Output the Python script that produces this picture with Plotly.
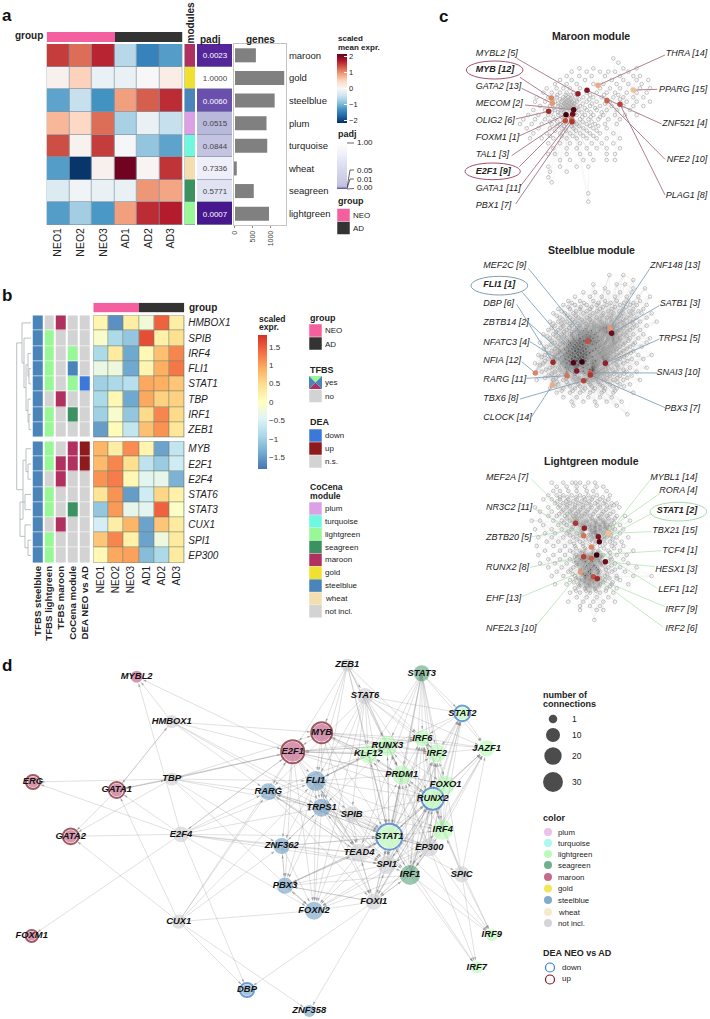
import numpy as np
import plotly.graph_objects as go

W, H = 710, 1019
FONT = "Liberation Sans"

# ---------- palette ----------
MOD = {"plum": "#dba0e6", "turquoise": "#70f7df", "lightgreen": "#98f898", "seagreen": "#3c9160",
       "maroon": "#b03060", "gold": "#f0e030", "steelblue": "#4a84b8", "wheat": "#f3deb0",
       "not incl.": "#d3d3d3"}
CAT = dict(MOD)
CAT.update({"NEO": "#f4609f", "AD": "#333333", "down": "#3b78d8", "up": "#8f1a1e", "white": "#ffffff"})
CAT_NAMES = list(CAT)
CAT_SCALE = []
for i, n in enumerate(CAT_NAMES):
    CAT_SCALE += [[i / len(CAT_NAMES), CAT[n]], [(i + 1) / len(CAT_NAMES), CAT[n]]]

# ---------- panel a ----------
samples = ["NEO1", "NEO2", "NEO3", "AD1", "AD2", "AD3"]
sample_group = ["NEO", "NEO", "NEO", "AD", "AD", "AD"]
modules = ["maroon", "gold", "steelblue", "plum", "turquoise", "wheat", "seagreen", "lightgreen"]
mod_expr = [
    [1.50, 1.20, 1.65, -0.60, -1.45, -1.20],
    [0.10, 0.50, -0.15, -0.15, 0.00, 0.15],
    [-1.15, -0.50, -1.30, 0.90, 1.30, 1.60],
    [0.72, 0.45, 1.20, -0.70, -0.15, -0.50],
    [1.40, 0.08, 1.50, -0.02, -0.85, -1.15],
    [-1.20, -2.10, 0.10, 2.10, 0.05, 1.55],
    [-0.30, -0.08, -0.15, -0.15, 0.95, 0.85],
    [-1.20, -0.75, -1.25, 0.90, 1.60, 1.70],
]
padj = [0.0023, 1.0, 0.0060, 0.0515, 0.0844, 0.7336, 0.5771, 0.0007]
genes = [590, 1390, 1120, 890, 910, 50, 530, 960]

# ---------- panel b ----------
tf_top = ["HMBOX1", "SPIB", "IRF4", "FLI1", "STAT1", "TBP", "IRF1", "ZEB1"]
tf_bot = ["MYB", "E2F1", "E2F4", "STAT6", "STAT3", "CUX1", "SPI1", "EP300"]
expr_top = [
    [0.15, -1.6, 0.25, -0.2, 1.45, 0.25],
    [-0.1, -0.9, -1.1, 1.6, 0.2, 0.45],
    [-0.9, 0.3, -1.4, 0.1, 0.75, 1.2],
    [-0.3, -0.25, -1.4, 0.15, 0.9, 1.3],
    [-1.0, -0.9, -0.8, 0.95, 0.9, 0.7],
    [-0.9, 0.1, -1.4, 0.95, 0.6, 0.6],
    [-1.0, -0.1, -1.1, 0.5, 1.2, 0.5],
    [-1.5, 0.05, -0.7, 0.75, 1.1, 0.35],
]
expr_bot = [
    [0.85, 0.25, 1.15, 0.15, -1.45, -0.7],
    [0.8, 1.2, 0.45, -0.75, -1.05, -0.6],
    [1.1, 1.25, 0.1, -0.4, -0.35, -1.3],
    [0.4, 1.1, -1.5, -0.6, 0.55, 0.2],
    [-1.1, 1.05, -0.35, -0.4, 1.45, -0.05],
    [-0.55, 0.25, 0.85, -1.45, 0.7, 0.3],
    [0.7, 1.2, 0.2, -1.45, -0.25, 0.3],
    [0.1, 0.95, 1.0, -1.2, -0.9, 0.3],
]
ann_cols = ["TFBS steelblue", "TFBS lightgreen", "TFBS maroon", "CoCena module", "DEA NEO vs AD"]
NI = "not incl."
ann_top = [
    ["steelblue", NI, "maroon", NI, NI],
    ["steelblue", "lightgreen", NI, NI, NI],
    ["steelblue", "lightgreen", NI, "lightgreen", NI],
    ["steelblue", "lightgreen", NI, "steelblue", NI],
    ["steelblue", "lightgreen", NI, "lightgreen", "down"],
    ["steelblue", NI, "maroon", NI, NI],
    ["steelblue", "lightgreen", NI, "seagreen", NI],
    ["steelblue", "lightgreen", NI, NI, NI],
]
ann_bot = [
    ["steelblue", "lightgreen", NI, "maroon", "up"],
    ["steelblue", "lightgreen", "maroon", "maroon", "up"],
    ["steelblue", NI, "maroon", NI, NI],
    ["steelblue", "lightgreen", NI, NI, NI],
    ["steelblue", "lightgreen", NI, "seagreen", NI],
    ["steelblue", NI, "maroon", NI, NI],
    ["steelblue", "lightgreen", NI, NI, NI],
    ["steelblue", "lightgreen", NI, NI, NI],
]
# dendrogram: (merge position, left, right); integer leaves are rows
dendro = (16.7,
          (22, 0, (24, 1, (26, (28, 2, (29, 3, 4)), (28, 5, (29, 6, 7))))),
          (23, (26, 8, (28, 9, 10)), (20, (25, 11, 12), (25, 13, (28, 14, 15)))))

# ---------- panel c: background nodes per y band (layout units) ----------
maroon_bands = [
    (175, [580]), (188, [595]), (205, [478, 520, 610, 650]), (215, [455, 500, 540, 565, 585, 625]),
    (228, [440, 478, 515, 555, 600, 640, 660]), (240, [420, 455, 495, 575, 610, 650, 685]),
    (252, [405, 440, 470, 520, 550, 590, 625, 665]), (265, [380, 410, 430, 450, 480, 540, 570, 600, 660, 690]),
    (278, [370, 395, 420, 440, 460, 500, 530, 560, 585, 620, 650, 680]),
    (292, [350, 385, 410, 430, 445, 465, 490, 520, 545, 580, 610, 640, 670]),
    (305, [345, 375, 405, 425, 440, 455, 470, 500, 530, 570, 620, 650, 690]),
    (318, [360, 390, 415, 430, 445, 460, 480, 510, 540, 575, 610, 640, 670]),
    (330, [340, 375, 405, 425, 450, 475, 500, 530, 560, 590, 630]),
    (345, [325, 355, 385, 415, 440, 470, 495, 520, 550, 585, 615, 650]),
    (358, [310, 345, 375, 405, 430, 480, 505, 535, 565, 600]),
    (372, [300, 335, 365, 395, 420, 470, 500, 525, 555, 590]),
    (385, [320, 355, 390, 425, 460, 490, 520, 560]), (400, [340, 380, 420, 450, 480, 510, 540, 580]),
    (415, [330, 365, 400, 440, 470, 500, 530, 560, 600]), (430, [385, 420, 450, 480, 515, 545, 580]),
    (445, [400, 440, 470, 500, 530, 560, 600]), (462, [385, 405, 440, 480, 510, 560, 585]),
    (480, [420, 450, 490, 520, 560, 585]), (500, [385, 420, 470, 505]), (515, [390, 440]),
    (532, [385]), (547, [395]), (580, [505]), (605, [505]),
    # denser centre of the cloud
    (285, [412, 437, 452, 472, 510, 552, 595]), (298, [397, 420, 437, 452, 478, 508, 560, 600]),
    (311, [415, 433, 448, 463, 488, 516, 555]), (324, [402, 422, 438, 452, 468, 494, 525]),
    (337, [395, 414, 432, 462, 485, 512, 545]), (351, [400, 425, 450, 487, 512, 540]),
    (365, [390, 412, 440, 462, 488, 515]), (378, [410, 432, 455, 478, 510, 535]),
    (392, [405, 438, 468, 500, 530]), (408, [390, 425, 458, 490, 520]),
]
steel_bands = [
    (180, [568, 610]), (195, [640]), (208, [520, 590, 615]), (220, [555, 640, 675]),
    (232, [490, 525, 565, 600, 635]), (245, [465, 510, 545, 585, 620, 655, 690]),
    (258, [445, 480, 520, 555, 590, 625, 660]), (270, [430, 465, 500, 530, 560, 600, 630, 650, 680]),
    (282, [415, 450, 480, 510, 540, 575, 610, 640, 670]),
    (295, [400, 435, 460, 490, 520, 550, 580, 610, 640, 665, 695]),
    (308, [420, 450, 475, 500, 530, 560, 590, 620, 650, 680]),
    (320, [390, 415, 440, 465, 490, 515, 545, 600, 630, 660, 710]),
    (332, [405, 430, 455, 480, 505, 530, 560, 590, 620, 650, 680]),
    (345, [385, 415, 440, 465, 490, 515, 540, 600, 630, 660]),
    (358, [370, 400, 425, 450, 475, 500, 525, 550, 610, 640, 670]),
    (370, [390, 415, 440, 460, 480, 520, 545, 570, 600, 630, 655, 690]),
    (383, [360, 405, 430, 450, 470, 530, 555, 585, 615, 645, 680]),
    (395, [380, 415, 440, 460, 480, 505, 540, 570, 600, 630, 665]),
    (408, [395, 420, 445, 465, 490, 520, 550, 580, 610, 640]),
    (420, [355, 375, 405, 430, 450, 475, 500, 530, 560, 590, 620, 655, 695]),
    (432, [385, 415, 435, 455, 505, 535, 570, 600, 635, 670]),
    (445, [345, 370, 420, 440, 520, 540, 580, 610, 650]),
    (458, [390, 415, 435, 490, 530, 565, 595, 630, 680]),
    (470, [365, 405, 425, 450, 490, 535, 560, 590, 620, 650]),
    (482, [385, 415, 465, 510, 540, 570, 600, 635]),
    (495, [350, 400, 430, 460, 520, 550, 580, 610, 660]),
    (508, [415, 445, 475, 510, 540, 570, 600, 630]), (520, [390, 430, 465, 495, 525, 555, 590]),
    (533, [410, 450, 480, 510, 545, 580, 640]), (547, [430, 470, 505, 540, 575]),
    (560, [455, 490, 525, 560, 605]), (572, [460, 530, 590]), (598, [622]),
    # denser centre of the cloud
    (264, [455, 492, 535, 572, 612, 640]), (276, [445, 482, 515, 548, 585, 618]),
    (289, [425, 468, 500, 532, 565, 598, 628, 655]), (302, [410, 442, 468, 510, 545, 572, 602, 632]),
    (314, [428, 458, 485, 510, 538, 575, 610, 640]), (326, [400, 425, 450, 475, 498, 522, 552, 582, 612, 640]),
    (339, [395, 422, 448, 472, 498, 522, 548, 578, 610, 638]), (351, [408, 432, 456, 480, 505, 530, 560, 590, 622]),
    (364, [382, 408, 432, 456, 488, 512, 535, 562, 592, 620]), (377, [395, 422, 445, 466, 492, 512, 538, 562, 598, 625]),
    (389, [392, 420, 445, 465, 488, 518, 548, 578, 610, 640]), (402, [372, 405, 432, 455, 475, 498, 528, 560, 590, 620]),
    (414, [385, 415, 440, 458, 482, 510, 540, 570, 602, 632]), (426, [365, 395, 420, 445, 465, 490, 518, 548, 580, 612]),
    (438, [375, 405, 428, 448, 470, 498, 528, 558, 590, 622]), (451, [360, 400, 425, 450, 475, 505, 532, 560, 592]),
    (464, [378, 420, 445, 472, 510, 548, 578, 610]), (476, [395, 435, 460, 495, 525, 552, 582, 612]),
    (489, [375, 408, 440, 478, 530, 560, 592, 622]), (501, [410, 440, 470, 505, 535, 562, 592]),
    (514, [405, 450, 480, 515, 548, 578, 612]), (527, [425, 458, 490, 520, 552, 585]),
]
green_bands = [
    (188, [395, 430, 457, 467, 480, 505, 525]), (200, [410, 440, 470, 495, 530, 550]),
    (213, [400, 420, 445, 470, 500, 520, 560]), (226, [385, 410, 430, 455, 480, 505, 530, 570]),
    (238, [370, 395, 420, 445, 470, 495, 515, 540, 565]), (250, [405, 430, 450, 475, 500, 525, 550, 575, 590]),
    (262, [345, 385, 415, 440, 465, 490, 515, 540, 570, 598]), (275, [360, 395, 425, 450, 475, 500, 525, 550, 580]),
    (288, [385, 410, 435, 460, 485, 510, 535, 560, 590, 615]), (302, [335, 360, 400, 425, 450, 500, 525, 550, 575, 630]),
    (315, [370, 415, 440, 480, 510, 540, 570, 600]), (328, [345, 395, 425, 455, 510, 540, 585, 610]),
    (340, [375, 405, 440, 470, 515, 550, 600]), (352, [355, 395, 430, 460, 515, 560, 590, 625]),
    (365, [380, 415, 450, 480, 510, 570, 605]), (378, [350, 400, 435, 465, 490, 540, 575, 610]),
    (392, [375, 420, 450, 480, 535, 565, 600, 640]), (405, [355, 400, 435, 470, 505, 550, 590, 620]),
    (418, [385, 420, 450, 480, 535, 575, 610]), (430, [360, 405, 440, 470, 505, 545, 585, 625]),
    (442, [385, 425, 460, 490, 530, 565, 600, 650]), (455, [410, 445, 505, 540, 575, 615]),
    (468, [395, 430, 465, 495, 555, 590, 640, 695]), (480, [450, 480, 510, 555, 600]),
    (493, [405, 440, 475, 505, 540, 575, 625]), (505, [465, 495, 525, 560, 590]),
    (518, [450, 480, 510, 540, 580]), (532, [470, 500, 530, 565]), (545, [445, 490, 520, 550, 585]),
    (558, [480, 510, 540]), (570, [480, 530, 550]), (600, [523]),
    # denser centre of the cloud
    (232, [420, 442, 468, 492, 518, 548]), (244, [412, 438, 460, 485, 508, 532, 555]),
    (256, [420, 442, 465, 488, 512, 535, 560, 582]), (269, [430, 455, 480, 505, 530, 558]),
    (282, [418, 442, 468, 495, 520, 545, 570]), (295, [440, 470, 515, 540, 565, 585]),
    (308, [432, 462, 490, 528, 555, 582]), (321, [458, 495, 525, 555, 578]),
    (334, [445, 485, 525, 560, 575]), (346, [450, 480, 505, 530, 572]),
    (358, [470, 498, 522, 552, 578]), (371, [462, 488, 525, 555, 585]),
    (385, [468, 495, 520, 552, 582]), (398, [460, 490, 518, 540, 570]),
    (411, [465, 497, 525, 545, 572]), (424, [462, 495, 518, 540, 565]),
    (436, [470, 498, 522, 548, 575]), (449, [452, 480, 512, 535, 558, 585]),
    (462, [458, 488, 512, 535, 562]), (475, [468, 495, 540, 568, 590]),
    (487, [462, 492, 522, 550, 578]), (499, [478, 510, 538, 570]), (512, [468, 498, 528, 558]),
]
# (label, rank, side, label y, line start x, line start y, hub x, hub y)
maroon_tfs = [
    ("MYBL2", 5, "L", 160, 290, 175, 474, 281), ("MYB", 12, "LB", 210, 300, 232, 394, 294),
    ("GATA2", 13, "L", 260, 305, 265, 397, 310), ("MECOM", 2, "L", 311, 315, 315, 461, 329),
    ("OLIG2", 6, "L", 362, 287, 357, 386, 334), ("FOXM1", 1, "L", 412, 297, 408, 438, 344),
    ("TAL1", 3, "L", 463, 275, 467, 458, 343), ("E2F1", 9, "LB", 514, 298, 500, 436, 362),
    ("GATA1", 11, "L", 565, 300, 560, 455, 358), ("PBX1", 7, "L", 616, 287, 612, 456, 365),
    ("THRA", 14, "R", 160, 735, 165, 534, 256), ("PPARG", 15, "R", 268, 712, 268, 640, 270),
    ("ZNF521", 4, "R", 372, 725, 372, 501, 271), ("NFE2", 10, "R", 480, 735, 478, 561, 302),
    ("PLAG1", 8, "R", 587, 735, 585, 600, 313),
]
steel_tfs = [
    ("MEF2C", 9, "L", 153, 325, 160, 503, 379), ("FLI1", 1, "LB", 210, 307, 232, 486, 441),
    ("DBP", 6, "L", 267, 290, 268, 399, 442), ("ZBTB14", 2, "L", 324, 325, 322, 460, 443),
    ("NFATC3", 4, "L", 382, 330, 380, 470, 468), ("NFIA", 12, "L", 438, 305, 440, 346, 474),
    ("RARG", 11, "L", 495, 320, 490, 441, 482), ("TBX6", 8, "L", 552, 300, 552, 491, 497),
    ("CLOCK", 14, "L", 608, 335, 605, 397, 510),
    ("ZNF148", 13, "R", 153, 690, 160, 570, 340), ("SATB1", 3, "R", 266, 718, 272, 575, 355),
    ("TRPS1", 5, "R", 370, 718, 372, 556, 445), ("SNAI3", 10, "R", 474, 712, 474, 511, 473),
    ("PBX3", 7, "R", 580, 735, 578, 511, 480),
]
green_tfs = [
    ("MEF2A", 7, "L", 172, 335, 178, 467, 310), ("NR3C2", 11, "L", 263, 345, 268, 491, 347),
    ("ZBTB20", 5, "L", 354, 335, 350, 493, 325), ("RUNX2", 8, "L", 444, 330, 442, 491, 410),
    ("EHF", 13, "L", 536, 305, 530, 482, 456), ("NFE2L3", 10, "L", 627, 350, 615, 514, 415),
    ("MYBL1", 14, "R", 172, 692, 178, 565, 340), ("RORA", 4, "R", 213, 720, 220, 535, 350),
    ("STAT1", 2, "RB", 273, 695, 280, 538, 365), ("TBX21", 15, "R", 331, 695, 335, 565, 340),
    ("TCF4", 1, "R", 391, 725, 392, 530, 405), ("HESX1", 3, "R", 450, 705, 440, 556, 425),
    ("LEF1", 12, "R", 509, 712, 505, 514, 381), ("IRF7", 9, "R", 568, 735, 560, 520, 470),
    ("IRF2", 6, "R", 627, 730, 622, 532, 476),
]

# ---------- panel d ----------
d_nodes = {  # name: (x, y, module, number of connections, DEA)
    "MYBL2": (136.7, 676.7, "maroon", 4, None), "HMBOX1": (171.7, 721.7, NI, 6, None),
    "ERG": (33, 782, "maroon", 8, "up"), "GATA1": (116.7, 790, "maroon", 12, "up"),
    "TBP": (171.7, 779, NI, 6, None), "GATA2": (70.7, 836.3, "maroon", 12, "up"),
    "E2F4": (181, 834.3, NI, 12, None), "CUX1": (178.7, 921.7, NI, 8, None),
    "FOXM1": (31.7, 936, "maroon", 4, "up"), "DBP": (247, 990, "steelblue", 8, "down"),
    "ZEB1": (347.3, 665, NI, 6, None), "STAT3": (421.7, 673.3, "seagreen", 13, None),
    "STAT6": (365, 696, NI, 13, None), "STAT2": (462.3, 713.3, "lightgreen", 12, "down"),
    "MYB": (321.7, 732.7, "maroon", 30, "up"), "IRF6": (422.3, 738.3, "lightgreen", 13, None),
    "RUNX3": (387.3, 746, "lightgreen", 26, None), "KLF12": (368.3, 754, "lightgreen", 19, None),
    "IRF2": (436.7, 753.3, "lightgreen", 19, None), "JAZF1": (486.7, 748.3, "lightgreen", 13, None),
    "E2F1": (292.7, 751.7, "maroon", 40, "up"), "PRDM1": (401.7, 775, "lightgreen", 22, None),
    "FLI1": (315.7, 781, "steelblue", 26, None), "FOXO1": (445.7, 785, "lightgreen", 19, None),
    "RARG": (268.3, 791.7, "steelblue", 15, None), "RUNX2": (432.7, 798.7, "lightgreen", 35, "down"),
    "TRPS1": (321.7, 807.7, "steelblue", 19, None), "SPIB": (351.7, 814.3, NI, 13, None),
    "STAT1": (389.3, 836.7, "lightgreen", 56, "down"), "IRF4": (442.7, 830, "lightgreen", 26, None),
    "ZNF362": (281.7, 846, "steelblue", 13, None), "TEAD4": (359, 852.7, NI, 19, None),
    "EP300": (429.3, 847.3, NI, 19, None), "SPI1": (386.7, 865, NI, 19, None),
    "IRF1": (410, 875, "seagreen", 26, None), "SPIC": (461.7, 874.3, NI, 13, None),
    "PBX3": (285, 885.7, "steelblue", 13, None), "FOXI1": (373.7, 901.7, NI, 13, None),
    "FOXN2": (314, 910.7, "steelblue", 19, None), "IRF9": (491.7, 935, "lightgreen", 4, None),
    "IRF7": (476.7, 967.3, "lightgreen", 4, None), "ZNF358": (309.3, 1011, "steelblue", 4, None),
}
d_edges = {
    "TBP": ["ERG", "GATA1", "GATA2", "RARG", "E2F1", "ZNF362", "FLI1", "TRPS1", "MYB", "FOXN2"],
    "E2F4": ["MYBL2", "ERG", "GATA1", "GATA2", "FOXM1", "DBP", "RARG", "FLI1", "E2F1", "TRPS1", "STAT1", "ZNF362", "FOXN2", "TEAD4", "SPI1"],
    "CUX1": ["GATA1", "GATA2", "DBP", "RARG", "ZNF358", "FOXN2", "E2F1", "ZNF362", "FLI1"],
    "HMBOX1": ["MYBL2", "GATA1", "RARG", "MYB", "E2F1", "TRPS1", "STAT1"],
    "GATA1": ["GATA2", "HMBOX1", "TBP"],
    "E2F1": ["MYBL2", "GATA1", "RARG", "TBP", "E2F4", "ZNF362", "PBX3", "FOXN2", "FLI1", "TRPS1", "TEAD4", "KLF12", "RUNX3", "PRDM1", "STAT1", "IRF2", "IRF6", "FOXO1", "RUNX2"],
    "MYB": ["FLI1", "E2F1", "TRPS1", "KLF12", "RUNX3", "IRF6", "PRDM1", "STAT1", "IRF2", "JAZF1", "RUNX2", "TEAD4"],
    "ZEB1": ["E2F1", "MYB", "FLI1", "TRPS1", "STAT6", "RUNX3", "KLF12", "IRF6", "PRDM1", "STAT1"],
    "STAT6": ["FLI1", "TRPS1", "KLF12", "RUNX3", "IRF6", "IRF2", "PRDM1", "STAT2", "JAZF1", "STAT1", "RUNX2", "SPIB", "FOXN2", "RARG"],
    "STAT3": ["KLF12", "RUNX3", "IRF6", "IRF2", "PRDM1", "FOXO1", "RUNX2", "STAT1", "SPI1", "JAZF1", "STAT2", "IRF1", "IRF4", "TEAD4"],
    "STAT2": ["IRF6", "JAZF1", "KLF12", "IRF2"],
    "FLI1": ["RARG", "TRPS1", "ZNF362", "PBX3", "FOXN2", "SPIB", "TEAD4", "STAT1", "PRDM1", "KLF12", "RUNX3", "IRF4", "RUNX2", "SPI1", "FOXI1", "IRF1"],
    "RARG": ["TRPS1", "TEAD4", "STAT1", "SPI1", "FOXI1"],
    "TRPS1": ["RARG", "ZNF362", "PBX3", "FOXN2", "SPIB", "TEAD4", "STAT1", "SPI1", "EP300", "IRF1", "FOXI1"],
    "ZNF362": ["PBX3", "FOXN2", "TRPS1", "STAT1", "SPI1"],
    "PBX3": ["ZNF362", "FOXN2", "FOXI1", "STAT1", "TEAD4"],
    "FOXN2": ["PBX3"],
    "SPIB": ["STAT1", "TEAD4", "SPI1", "FOXN2", "IRF4", "RUNX2", "EP300"],
    "TEAD4": ["FOXN2", "PBX3", "FOXI1", "SPI1", "STAT1", "RUNX2", "PRDM1", "RARG", "FLI1", "TRPS1", "ZNF362"],
    "SPI1": ["FOXN2", "PBX3", "FOXI1", "STAT1", "RUNX2", "IRF4", "PRDM1", "IRF2", "IRF6", "FOXO1", "JAZF1", "STAT2", "IRF1"],
    "FOXI1": ["FOXN2", "DBP", "ZNF358", "STAT1", "SPI1", "RUNX2", "EP300", "IRF1", "TEAD4", "PRDM1", "FOXO1", "PBX3"],
    "IRF1": ["IRF9", "IRF7", "STAT2", "IRF6", "IRF2", "RUNX2", "FOXO1", "JAZF1", "STAT1", "IRF4", "PRDM1", "FOXN2", "FOXI1", "PBX3"],
    "STAT1": ["IRF9", "IRF7", "IRF6", "IRF2", "IRF4", "RUNX2", "RUNX3", "KLF12", "PRDM1", "FOXO1", "JAZF1", "STAT2", "IRF1", "SPI1", "TEAD4", "FOXN2", "SPIC", "EP300", "PBX3", "ZNF362", "RARG"],
    "IRF4": ["JAZF1", "STAT2", "FOXO1", "RUNX2", "IRF2", "IRF6", "PRDM1", "IRF1", "IRF9"],
    "EP300": ["IRF7", "IRF9", "JAZF1", "STAT2", "FOXO1", "IRF2", "IRF6", "PRDM1", "RUNX3", "KLF12", "STAT1", "RUNX2", "FOXI1", "FOXN2", "SPI1", "IRF1"],
    "SPIC": ["IRF7", "IRF9", "JAZF1", "FOXO1", "RUNX2", "IRF4"],
    "RUNX2": ["JAZF1", "STAT2", "IRF6", "IRF2", "KLF12", "RUNX3", "STAT1", "IRF4", "IRF1", "PRDM1", "FOXI1", "SPI1"],
    "FOXO1": ["IRF6", "IRF2", "JAZF1", "STAT2"],
    "PRDM1": ["IRF6", "IRF2", "FOXO1", "RUNX3", "KLF12", "STAT1", "RUNX2"],
    "RUNX3": ["IRF6", "IRF2", "PRDM1", "KLF12", "STAT1", "FOXO1", "FLI1", "E2F1", "TRPS1"],
    "KLF12": ["RUNX3", "FLI1", "MYB", "E2F1", "RARG", "SPI1", "STAT1"],
    "IRF6": ["IRF2", "JAZF1", "KLF12"],
    "IRF2": ["IRF6", "JAZF1"],
}
conn_levels = [1, 10, 20, 30]
color_levels = ["plum", "turquoise", "lightgreen", "seagreen", "maroon", "gold", "steelblue", "wheat", "not incl."]

# ---------- helpers ----------
fig = go.Figure()
counter = [1]
annots, shapes = [], []


def new_axes(x0, x1, y0, y1, xa=None, ya=None):
    counter[0] += 1
    n = counter[0]
    base = dict(showgrid=False, zeroline=False, showline=False, ticks="", showticklabels=False, fixedrange=True)
    xd = dict(base, domain=[x0 / W, x1 / W], anchor=f"y{n}")
    yd = dict(base, domain=[1 - y1 / H, 1 - y0 / H], anchor=f"x{n}")
    xd.update(xa or {})
    yd.update(ya or {})
    fig.update_layout(**{f"xaxis{n}": xd, f"yaxis{n}": yd})
    return f"x{n}", f"y{n}"


def text(x, y, s, size=9, bold=False, italic=False, anchor="left", angle=0, color="#222222"):
    font = dict(family=FONT, size=size, color=color)
    if bold:
        font["weight"] = "bold"
    if italic:
        font["style"] = "italic"
    annots.append(dict(xref="paper", yref="paper", x=x / W, y=1 - y / H, text=s, showarrow=False, font=font,
                       xanchor=anchor, yanchor="middle", textangle=angle, borderpad=0))


def backing(x0, x1, y0, y1, color):
    shapes.append(dict(type="rect", xref="paper", yref="paper", x0=x0 / W, x1=x1 / W, y0=1 - y1 / H, y1=1 - y0 / H,
                       fillcolor=color, line_width=0, layer="below"))


def cat_z(rows):
    return [[CAT_NAMES.index(v) + 0.5 for v in r] for r in rows]


def cat_heat(rows, x, y, ax, xgap=0, ygap=0):
    fig.add_trace(go.Heatmap(z=cat_z(rows), x=x, y=y, colorscale=CAT_SCALE, zmin=0, zmax=len(CAT_NAMES),
                             showscale=False, xgap=xgap, ygap=ygap, hoverinfo="skip", xaxis=ax[0], yaxis=ax[1]))


catx = dict(type="category", dtick=1)
caty = dict(type="category", dtick=1, autorange="reversed")
RDBU = ["#053061", "#2166ac", "#4393c3", "#92c5de", "#d1e5f0", "#f7f7f7", "#fddbc7", "#f4a582", "#d6604d", "#b2182b", "#67001f"]
RDYLBU = ["#4575b4", "#74add1", "#abd9e9", "#e0f3f8", "#ffffbf", "#fee090", "#fdae61", "#f46d43", "#d73027"]
GRIDC = "#8295a6"

# ---------- panel a drawing ----------
ax = new_axes(46.7, 182.3, 32, 42, catx, caty)
cat_heat([sample_group], samples, ["group"], ax)
backing(46.7, 182.3, 44, 225, GRIDC)
ax = new_axes(46.7, 182.3, 44, 225,
              dict(catx, showticklabels=True, tickangle=-90, tickfont=dict(family=FONT, size=10.5, color="#222")), caty)
fig.add_trace(go.Heatmap(z=mod_expr, x=samples, y=modules, colorscale=RDBU, zmin=-2.15, zmax=2.15, xgap=0.7, ygap=0.7,
                         hoverinfo="skip", xaxis=ax[0], yaxis=ax[1],
                         colorbar=dict(x=337 / W, xanchor="left", y=1 - 54 / H, yanchor="top", len=69, lenmode="pixels",
                                       thickness=10, xpad=0, ypad=0, outlinewidth=0, tickvals=[-2, -1, 0, 1, 2],
                                       ticks="inside", ticklen=3, tickcolor="#ffffff", tickwidth=1,
                                       tickfont=dict(family=FONT, size=7.5, color="#222"))))
backing(184.5, 195, 44, 225, GRIDC)
ax = new_axes(184.5, 195, 44, 225, catx, caty)
cat_heat([[m] for m in modules], ["m"], modules, ax, ygap=0.7)
backing(197, 232, 44, 225, GRIDC)
ax = new_axes(197, 232, 44, 225, catx, caty)
PADJ_SCALE = [[0, "#40108a"], [0.001, "#4a1a90"], [0.0025, "#55289a"], [0.006, "#6a50ac"], [0.05, "#b8b8dc"],
              [0.085, "#c4c4e2"], [0.58, "#e1e3f3"], [0.73, "#eeeff9"], [1, "#ffffff"]]
fig.add_trace(go.Heatmap(z=[[p] for p in padj], x=["padj"], y=modules, colorscale=PADJ_SCALE, zmin=0, zmax=1,
                         text=[[f"{p:.4f}"] for p in padj], texttemplate="%{text}",
                         textfont=dict(family=FONT, size=8), xgap=0, ygap=0.7, hoverinfo="skip",
                         xaxis=ax[0], yaxis=ax[1],
                         colorbar=dict(x=337 / W, xanchor="left", y=1 - 143 / H, yanchor="top", len=46, lenmode="pixels",
                                       thickness=10, xpad=0, ypad=0, outlinewidth=0, showticklabels=False, ticks="")))
ax = new_axes(234, 286, 44, 225,
              dict(range=[-28, 1440], tickmode="array", tickvals=[0, 500, 1000], showticklabels=True, tickangle=-90,
                   ticks="outside", ticklen=2, tickcolor="#888", tickfont=dict(family=FONT, size=7, color="#444"),
                   showline=True, linecolor="#c4c4c4", mirror=True, linewidth=1),
              dict(caty, side="right", showticklabels=True, tickfont=dict(family=FONT, size=9.5, color="#222"),
                   showline=True, linecolor="#c4c4c4", mirror=True, linewidth=1))
fig.add_trace(go.Bar(x=genes, y=modules, orientation="h", marker=dict(color="#808080", line_width=0), width=0.62,
                     hoverinfo="skip", xaxis=ax[0], yaxis=ax[1]))

text(44, 36, "group", 10, bold=True, anchor="right")
text(189.5, 22, "modules", 10, bold=True, anchor="center", angle=-90)
text(199, 39, "padj", 10, bold=True)
text(260, 39, "genes", 10, bold=True, anchor="center")
text(337, 38.5, "scaled", 8, bold=True)
text(337, 47.5, "mean expr.", 8, bold=True)
text(337, 134, "padj", 9, bold=True)
text(337, 201, "group", 9, bold=True)
text(352, 215, "NEO", 8)
text(352, 228, "AD", 8)
for v, y in zip(["1.00", "0.05", "0.01", "0.00"], [143, 170, 179, 188]):
    text(356, y, v, 8)

# ---------- panel b drawing ----------
ax = new_axes(93.3, 184.3, 302.7, 312.3, catx, caty)
cat_heat([sample_group], samples, ["group"], ax)
text(188, 308, "group", 10, bold=True)
for names, zz, anns, y0, y1, bottom in [(tf_top, expr_top, ann_top, 315.3, 437.3, False),
                                        (tf_bot, expr_bot, ann_bot, 441.3, 563, True)]:
    backing(93.3, 184.3, y0, y1, "#6f7f70")
    xa = dict(catx)
    if bottom:
        xa.update(showticklabels=True, tickangle=-90, tickfont=dict(family=FONT, size=10, color="#222"))
    ax = new_axes(93.3, 184.3, y0, y1, xa,
                  dict(caty, side="right", showticklabels=True, ticklabelstandoff=3,
                       tickfont=dict(family=FONT, size=10, style="italic", color="#222")))
    hm = dict(z=zz, x=samples, y=names, colorscale=RDYLBU, zmin=-1.82, zmax=1.82, xgap=0.6, ygap=0.6, hoverinfo="skip",
              xaxis=ax[0], yaxis=ax[1], showscale=not bottom)
    if not bottom:
        hm["colorbar"] = dict(x=258 / W, xanchor="left", y=1 - 335 / H, yanchor="top", len=134, lenmode="pixels",
                              thickness=9, xpad=0, ypad=0, outlinewidth=0, ticks="",
                              tickvals=[-1.5, -1, -0.5, 0, 0.5, 1, 1.5], ticklabelposition="outside",
                              tickfont=dict(family=FONT, size=8, color="#333"))
    fig.add_trace(go.Heatmap(**hm))
    xa = dict(catx)
    if bottom:
        xa.update(showticklabels=True, tickangle=-90, tickfont=dict(family=FONT, size=9.7, weight="bold", color="#222"))
    ax = new_axes(31.7, 90.3, y0, y1, xa, caty)
    cat_heat(anns, ann_cols, names, ax, xgap=2, ygap=0.6)

dx, dy = [], []


def walk(node):
    if isinstance(node, int):
        return 31, node + (0.26 if node >= 8 else 0)
    h, a, b = node
    xa, ya = walk(a)
    xb, yb = walk(b)
    dx.extend([xa, h, h, xb, None])
    dy.extend([ya, ya, yb, yb, None])
    return h, (ya + yb) / 2


walk(dendro)
ax = new_axes(15, 31, 315.3, 563, dict(range=[15, 31]), dict(range=[15.76, -0.5]))
fig.add_trace(go.Scatter(x=dx, y=dy, mode="lines", line=dict(color="#a9b0b4", width=0.8), hoverinfo="skip",
                         xaxis=ax[0], yaxis=ax[1]))

text(258, 319, "scaled", 8.5, bold=True)
text(258, 327, "expr.", 8.5, bold=True)
text(309, 318, "group", 9, bold=True)
text(324, 331, "NEO", 8)
text(324, 344, "AD", 8)
text(309, 370, "TFBS", 9, bold=True)
text(324, 383, "yes", 8)
text(324, 396, "no", 8)
text(309, 422, "DEA", 9, bold=True)
text(324, 435.5, "down", 8)
text(324, 448.5, "up", 8)
text(324, 461.5, "n.s.", 8)
text(309, 487, "CoCena", 8.6, bold=True)
text(309, 496, "module", 8.6, bold=True)

# ---------- shared overlay for legends ----------
ov = new_axes(0, W, 0, H, dict(range=[0, W]), dict(range=[H, 0]))


def squares(x, ys, names, size=12.5):
    fig.add_trace(go.Scatter(x=[x] * len(ys), y=ys, mode="markers", hoverinfo="skip", xaxis=ov[0], yaxis=ov[1],
                             marker=dict(symbol="square", size=size, color=[CAT[n] for n in names], line_width=0)))


squares(343.5, [215, 228], ["NEO", "AD"])
squares(315.5, [330.5, 343.5], ["NEO", "AD"])
squares(315.5, [396], ["not incl."])
squares(315.5, [435.5, 448.5, 461.5], ["down", "up", "not incl."])
coc_y = [508.5, 521.4, 534.2, 547, 559.9, 572.8, 585.6, 598.5, 611.3]
squares(315.5, coc_y, color_levels)
for n, y in zip(color_levels, coc_y):
    text(324, y, n, 8)
# TFBS swatch
for pts, c in [("M309,376 L322,376 L315.5,382.5 Z", "lightgreen"), ("M309,389 L322,389 L315.5,382.5 Z", "maroon"),
               ("M309,376 L309,389 L315.5,382.5 Z", "steelblue"), ("M322,376 L322,389 L315.5,382.5 Z", "steelblue")]:
    shapes.append(dict(type="path", path=pts, xref=ov[0], yref=ov[1], fillcolor=CAT[c], line_width=0))
# padj legend connectors
fig.add_trace(go.Scatter(x=[347, 354, None, 347, 350, 354, None, 347, 350, 354, None, 347, 354],
                         y=[143, 143, None, 188, 170, 170, None, 188.5, 179, 179, None, 189, 188.5],
                         mode="lines", line=dict(color="#222", width=0.7), hoverinfo="skip", xaxis=ov[0], yaxis=ov[1]))

# ---------- panel c drawing ----------
HUB_SCALE = [[0, "#3d0010"], [0.25, "#8c1a28"], [0.55, "#bd4a3a"], [0.8, "#dc8a68"], [1, "#efc09a"]]


def network(origin_y, height, bands, tfs, line_col, hub_alpha, k, nb_alpha, nb, cores, core_alpha,
            ellipse_col, ellipses, title_y, title):
    ax = new_axes(420, 710, origin_y, origin_y + height, dict(range=[0, 870]), dict(range=[height * 3, 0]))
    px = np.array([x for y, xs in bands for x in xs], float)
    py = np.array([y for y, xs in bands for x in xs], float)
    hx = np.array([t[6] for t in tfs], float)
    hy = np.array([t[7] for t in tfs], float)
    hair_x, hair_y, near_x, near_y, core_x, core_y = [], [], [], [], [], []
    for i, (x0, y0) in enumerate(zip(px, py)):
        for j in np.argsort((hx - x0) ** 2 + (hy - y0) ** 2)[:k]:
            hair_x += [x0, hx[j], None]
            hair_y += [y0, hy[j], None]
        for j in np.argsort((px - x0) ** 2 + (py - y0) ** 2)[1:nb + 1]:
            near_x += [x0, px[j], None]
            near_y += [y0, py[j], None]
    for cx, cy, R in cores:
        idx = np.where((px - cx) ** 2 + (py - cy) ** 2 < R * R)[0]
        for a in idx:
            for b in idx:
                if a < b:
                    core_x += [px[a], px[b], None]
                    core_y += [py[a], py[b], None]
    for xs, ys, al in [(hair_x, hair_y, hub_alpha), (near_x, near_y, nb_alpha), (core_x, core_y, core_alpha)]:
        fig.add_trace(go.Scatter(x=xs, y=ys, mode="lines", line=dict(color=f"rgba(70,70,70,{al})", width=0.4),
                                 hoverinfo="skip", xaxis=ax[0], yaxis=ax[1]))
    lx, ly = [], []
    for t in tfs:
        lx += [t[4], t[6], None]
        ly += [t[5], t[7], None]
    fig.add_trace(go.Scatter(x=lx, y=ly, mode="lines", line=dict(color=line_col, width=0.8), hoverinfo="skip",
                             xaxis=ax[0], yaxis=ax[1]))
    fig.add_trace(go.Scatter(x=px, y=py, mode="markers", hoverinfo="skip", xaxis=ax[0], yaxis=ax[1],
                             marker=dict(symbol="circle-open", size=3.6, color="#a0a0a0", line=dict(width=0.6, color="#a0a0a0"))))
    fig.add_trace(go.Scatter(x=hx, y=hy, mode="markers", hoverinfo="skip", xaxis=ax[0], yaxis=ax[1],
                             marker=dict(size=5.5, color=[t[1] for t in tfs], colorscale=HUB_SCALE, cmin=1, cmax=15,
                                         line_width=0, showscale=False)))
    for side, xpos in [("L", 167 if title.startswith("Maroon") else (190 if title.startswith("Steel") else 198)),
                       ("R", 862 if title.startswith("Maroon") else (840 if title.startswith("Steel") else 832))]:
        sel = [t for t in tfs if t[2][0] == side]
        labs = [(f"<b><i>{t[0]} [{t[1]}]</i></b>" if t[2].endswith("B") else f"<i>{t[0]} [{t[1]}]</i>") for t in sel]
        fig.add_trace(go.Scatter(x=[xpos] * len(sel), y=[t[3] for t in sel], text=labs, mode="text",
                                 textposition="middle right" if side == "L" else "middle left",
                                 textfont=dict(family=FONT, size=9, color="#222"), hoverinfo="skip", cliponaxis=False,
                                 xaxis=ax[0], yaxis=ax[1]))
    for (cx, cy, rx, ry) in ellipses:
        shapes.append(dict(type="circle", xref=ax[0], yref=ax[1], x0=cx - rx, x1=cx + rx, y0=cy - ry, y1=cy + ry,
                           line=dict(color=ellipse_col, width=1)))
    text(591, title_y, title, 10.5, bold=True, anchor="center")


network(0, 220, maroon_bands, maroon_tfs, "#9d5f72", 0.05, 2, 0.07, 2, [(445, 320, 40)], 0.04,
        "#a05070", [(224, 210, 85, 27), (218, 514, 83, 25)], 36, "Maroon module")
network(215, 210, steel_bands, steel_tfs, "#6f98b4", 0.05, 8, 0.10, 3, [(470, 425, 60), (490, 380, 50)], 0.035,
        "#7f9cb0", [(238, 212, 85, 28)], 250, "Steelblue module")
network(420, 212, green_bands, green_tfs, "#b4e4b4", 0.05, 4, 0.10, 3, [(530, 330, 45), (510, 430, 50), (510, 475, 45)], 0.05,
        "#a8dca8", [(775, 275, 85, 28)], 461, "Lightgreen module")

# ---------- panel d drawing ----------
NODEC = {"plum": "rgba(221,160,221,0.65)", "turquoise": "rgba(112,247,223,0.6)", "lightgreen": "rgba(152,248,152,0.65)",
         "seagreen": "rgba(46,139,87,0.68)", "maroon": "rgba(176,48,96,0.72)", "gold": "rgba(240,224,48,0.8)",
         "steelblue": "rgba(70,130,180,0.68)", "wheat": "rgba(243,222,176,0.65)", "not incl.": "rgba(205,205,210,0.85)"}


def radius(c):
    return 3.5 + 1.27 * np.sqrt(c)


dax = new_axes(0, 520, 650, H, dict(range=[0, 520]), dict(range=[H, 650]))
ex, ey, tx, ty, ta = [], [], [], [], []
for s, targets in d_edges.items():
    x0, y0 = d_nodes[s][:2]
    for t in targets:
        x1, y1 = d_nodes[t][:2]
        vx, vy = x1 - x0, y1 - y0
        L = np.hypot(vx, vy)
        r = radius(d_nodes[t][3]) + 1
        px, py = x1 - vx / L * r, y1 - vy / L * r
        ex += [x0, px, None]
        ey += [y0, py, None]
        tx.append(px)
        ty.append(py)
        ta.append(float(np.degrees(np.arctan2(vx, -vy))))
fig.add_trace(go.Scatter(x=ex, y=ey, mode="lines", line=dict(color="rgba(130,130,130,0.45)", width=0.55), hoverinfo="skip",
                         xaxis=dax[0], yaxis=dax[1]))
fig.add_trace(go.Scatter(x=tx, y=ty, mode="markers", hoverinfo="skip", xaxis=dax[0], yaxis=dax[1],
                         marker=dict(symbol="arrow", size=3.5, angle=ta, color="rgba(140,140,140,0.75)", line_width=0)))
dnames = list(d_nodes)
dxs = [d_nodes[n][0] for n in dnames]
dys = [d_nodes[n][1] for n in dnames]
# DEA rings
for state, col in [("up", "#7d1420"), ("down", "#2f74c8")]:
    sel = [n for n in dnames if d_nodes[n][4] == state]
    fig.add_trace(go.Scatter(x=[d_nodes[n][0] for n in sel], y=[d_nodes[n][1] for n in sel], mode="markers",
                             hoverinfo="skip", xaxis=dax[0], yaxis=dax[1],
                             marker=dict(size=[2 * radius(d_nodes[n][3]) for n in sel], color="#ffffff",
                                         line=dict(color=col, width=2))))
fig.add_trace(go.Scatter(x=dxs, y=dys, mode="markers", hoverinfo="skip", xaxis=dax[0], yaxis=dax[1],
                         marker=dict(size=[2 * radius(d_nodes[n][3]) - (3 if d_nodes[n][4] else 0) for n in dnames],
                                     color=[NODEC[d_nodes[n][2]] for n in dnames], line_width=0)))
fig.add_trace(go.Scatter(x=dxs, y=dys, text=dnames, mode="text", textposition="middle center", hoverinfo="skip",
                         textfont=dict(family=FONT, size=9.4, style="italic", weight="bold", color="#111"),
                         cliponaxis=False, xaxis=dax[0], yaxis=dax[1]))

# panel d legends
text(542, 695, "number of", 9, bold=True)
text(542, 704, "connections", 9, bold=True)
fig.add_trace(go.Scatter(x=[553] * 4, y=[719, 735, 756, 782], mode="markers", hoverinfo="skip", xaxis=ov[0], yaxis=ov[1],
                         marker=dict(size=[2 * radius(c) - 1 for c in conn_levels], color="#000", line_width=0)))
for c, y in zip(conn_levels, [719, 735, 756, 782]):
    text(571, y, str(c), 8.5)
text(542, 818, "color", 9, bold=True)
col_y = [832, 843, 854, 865, 877, 888.5, 900, 912, 923]
fig.add_trace(go.Scatter(x=[548] * 9, y=col_y, mode="markers", hoverinfo="skip", xaxis=ov[0], yaxis=ov[1],
                         marker=dict(size=8, color=[NODEC[n] for n in color_levels], line_width=0)))
for n, y in zip(color_levels, col_y):
    text(557, y, n, 7.8)
text(542, 953, "DEA NEO vs AD", 9, bold=True)
fig.add_trace(go.Scatter(x=[550, 550], y=[967.5, 979.5], mode="markers", hoverinfo="skip", xaxis=ov[0], yaxis=ov[1],
                         marker=dict(symbol="circle-open", size=9, line=dict(width=1.2), color=["#2f84c0", "#7d1420"])))
text(561, 967.5, "down", 8)
text(561, 978, "up", 8)

# panel letters
text(1, 15, "a", 17, bold=True, color="#111")
text(1, 295, "b", 17, bold=True, color="#111")
text(438, 17, "c", 17, bold=True, color="#111")
text(1, 665, "d", 17, bold=True, color="#111")

fig.update_layout(width=W, height=H, margin=dict(l=0, r=0, t=0, b=0, pad=0, autoexpand=False), autosize=False, showlegend=False,
                  paper_bgcolor="#ffffff", plot_bgcolor="rgba(0,0,0,0)", annotations=annots, shapes=shapes,
                  font=dict(family=FONT), bargap=0.2)
fig.write_html("out.html", config=dict(displayModeBar=False), post_script="document.body.style.margin='0';")
